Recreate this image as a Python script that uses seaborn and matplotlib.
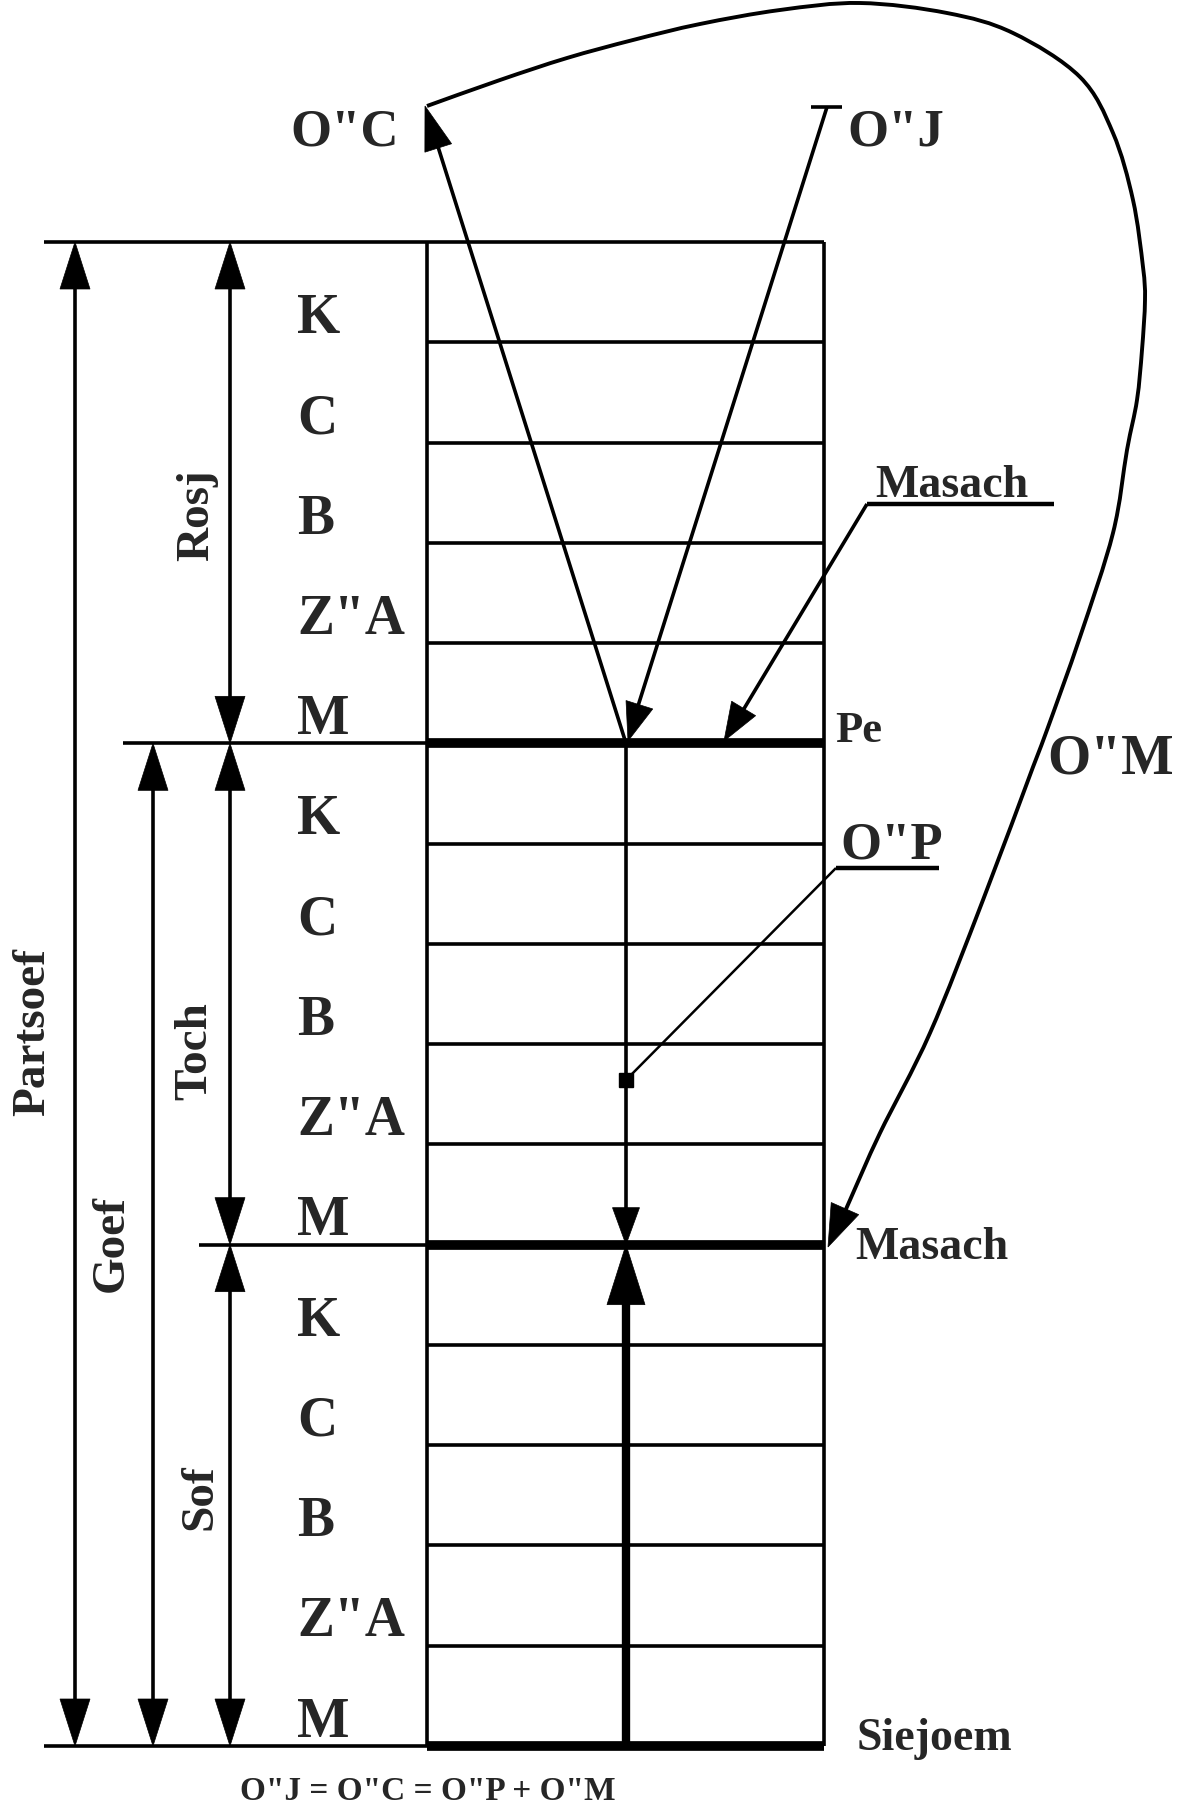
import numpy as np
import matplotlib
matplotlib.use("Agg")
import matplotlib.pyplot as plt
from matplotlib.patches import Polygon, PathPatch
from matplotlib.path import Path
import seaborn as sns

# ---------------- content ----------------
levels = ["K", "C", "B", 'Z"A', "M"]
sections = ["Rosj", "Toch", "Sof"]
row_labels = levels * len(sections)
span_labels = ["Partsoef", "Goef"]
light_labels = ['O"C', 'O"J', 'O"M', 'O"P']
boundary_labels = ["Pe", "Masach", "Siejoem"]
screen_label = "Masach"
formula = 'O"J = O"C = O"P + O"M'

# path of the returning light O"M (pixel units)
om_curve_x = [427, 500, 567, 633, 700, 780, 860, 947, 1013, 1080, 1113, 1133, 1143, 1145,
              1142, 1137, 1127, 1113, 1080, 1047, 1033, 983, 930, 880, 850, 836]
om_curve_y = [106, 80, 58, 40, 24, 10, 3, 13, 33, 77, 133, 200, 267, 300,
              350, 400, 450, 533, 637, 730, 767, 900, 1033, 1133, 1200, 1232]

# ---------------- style ----------------
sns.set_theme(style="white")
plt.rcParams["font.family"] = ["Liberation Serif", "DejaVu Serif"]
plt.rcParams["font.weight"] = "bold"

W, H = 1179, 1807
fig = plt.figure(figsize=(W / 100, H / 100), dpi=100)
ax = fig.add_axes([0, 0, 1, 1])

THIN = 2.6
THICK = 7.0
K = "black"

# layout
RECT_L, RECT_R = 427, 824
TOP, BOTTOM = 242, 1746
n_rows = len(row_labels)
row_h = (BOTTOM - TOP) / n_rows
bounds = [TOP + k * row_h for k in range(n_rows + 1)]
PE = bounds[5]
MAS = bounds[10]
CX = 626


def line(x0, y0, x1, y1, lw=THIN):
    sns.lineplot(x=[x0, x1], y=[y0, y1], sort=False, estimator=None,
                 color=K, lw=lw, solid_capstyle="butt", ax=ax)


def head(tip, frm, length, width):
    tip = np.array(tip, float)
    d = tip - np.array(frm, float)
    d /= np.hypot(*d)
    p = np.array([-d[1], d[0]])
    base = tip - d * length
    ax.add_patch(Polygon([tip, base + p * width / 2, base - p * width / 2],
                         closed=True, fc=K, ec=K, lw=0.5, zorder=5))


def dim_arrow(x, y0, y1):
    line(x, y0 + 20, x, y1 - 20)
    head((x, y0), (x, y1), 47, 30)
    head((x, y1), (x, y0), 47, 30)


def smooth_path(xs, ys, lw):
    """Draw a smooth curve through the given points (Catmull-Rom as Bezier)."""
    P = np.column_stack([xs, ys]).astype(float)
    verts = [P[0]]
    codes = [Path.MOVETO]
    n = len(P)
    for i in range(n - 1):
        p0 = P[i - 1] if i > 0 else P[i]
        p1, p2 = P[i], P[i + 1]
        p3 = P[i + 2] if i + 2 < n else P[i + 1]
        c1 = p1 + (p2 - p0) / 6.0
        c2 = p2 - (p3 - p1) / 6.0
        verts += [c1, c2, p2]
        codes += [Path.CURVE4] * 3
    ax.add_patch(PathPatch(Path(verts, codes), fc="none", ec=K, lw=lw))


# ---------------- the column of levels ----------------
for k, yb in enumerate(bounds):
    if k in (5, 10, n_rows):
        line(RECT_L, yb, RECT_R, yb, THICK)
    else:
        line(RECT_L, yb, RECT_R, yb, THIN)
line(RECT_L, TOP, RECT_L, BOTTOM)
line(RECT_R, TOP, RECT_R, BOTTOM)

# extension lines to the left
line(44, TOP, RECT_L, TOP)
line(123, PE, RECT_L, PE)
line(199, MAS, RECT_L, MAS)
line(44, BOTTOM, RECT_L, BOTTOM)

# level letters
for k, lab in enumerate(row_labels):
    ax.text(297, bounds[k] + 91, lab, fontsize=40, fontweight="bold",
            ha="left", va="baseline")

# dimension arrows
dim_arrow(75, TOP, BOTTOM)      # Partsoef
dim_arrow(153, PE, BOTTOM)      # Goef
dim_arrow(230, TOP, PE)         # Rosj
dim_arrow(230, PE, MAS)         # Toch
dim_arrow(230, MAS, BOTTOM)     # Sof

rot_pos = {"Partsoef": (33, 1032), "Goef": (112, 1244),
           "Rosj": (197, 515), "Toch": (195, 1051), "Sof": (200, 1497)}
for lab in span_labels + sections:
    x, y = rot_pos[lab]
    ax.text(x, y, lab, rotation=90, fontsize=34, fontweight="bold",
            ha="center", va="center")

# ---------------- light arrows ----------------
# central line: Pe -> Masach (thin, down) and Siejoem -> Masach (thick, up)
line(CX, PE, CX, MAS - 30)
head((CX, MAS), (CX, PE), 37, 27)
line(CX, MAS + 50, CX, BOTTOM, 6.0)
head((CX, MAS), (CX, BOTTOM), 60, 38)

# O"C : from Pe up to the top left
line(CX, PE, 428, 115)
head((425, 106), (CX, PE), 44, 28)

# O"J : from the top right down to Pe
line(811, 107, 842, 107)
line(827, 107, 632, 725)
head((628, 741), (827, 107), 38, 28)

# Masach (upper) leader
line(867, 504, 1054, 504, 3.2)
line(867, 504, 733, 727)
head((724, 741), (867, 504), 38, 28)

# O"P leader
line(836, 868, 939, 868, 3.2)
line(836, 868, CX, 1080, 1.8)
ax.plot([CX], [1080], marker="s", ms=10, color=K, zorder=6)

# O"M curve
smooth_path(om_curve_x, om_curve_y, 2.8)
head((828, 1247), (862, 1170), 42, 30)

# ---------------- labels ----------------
ax.text(290, 145, light_labels[0], fontsize=38, fontweight="bold", ha="left", va="baseline")
ax.text(847, 145, light_labels[1], fontsize=38, fontweight="bold", ha="left", va="baseline")
ax.text(1047, 773, light_labels[2], fontsize=40, fontweight="bold", ha="left", va="baseline")
ax.text(840, 858, light_labels[3], fontsize=38, fontweight="bold", ha="left", va="baseline")
ax.text(875, 497, screen_label, fontsize=33, fontweight="bold", ha="left", va="baseline")
ax.text(835, 742, boundary_labels[0], fontsize=32, fontweight="bold", ha="left", va="baseline")
ax.text(855, 1259, boundary_labels[1], fontsize=33, fontweight="bold", ha="left", va="baseline")
ax.text(857, 1750, boundary_labels[2], fontsize=33, fontweight="bold", ha="left", va="baseline")
ax.text(428, 1800, formula, fontsize=24, fontweight="bold", ha="center", va="baseline")

ax.set_xlim(0, W)
ax.set_ylim(H, 0)
ax.axis("off")
fig.savefig("out.png", dpi=100, facecolor="white")
